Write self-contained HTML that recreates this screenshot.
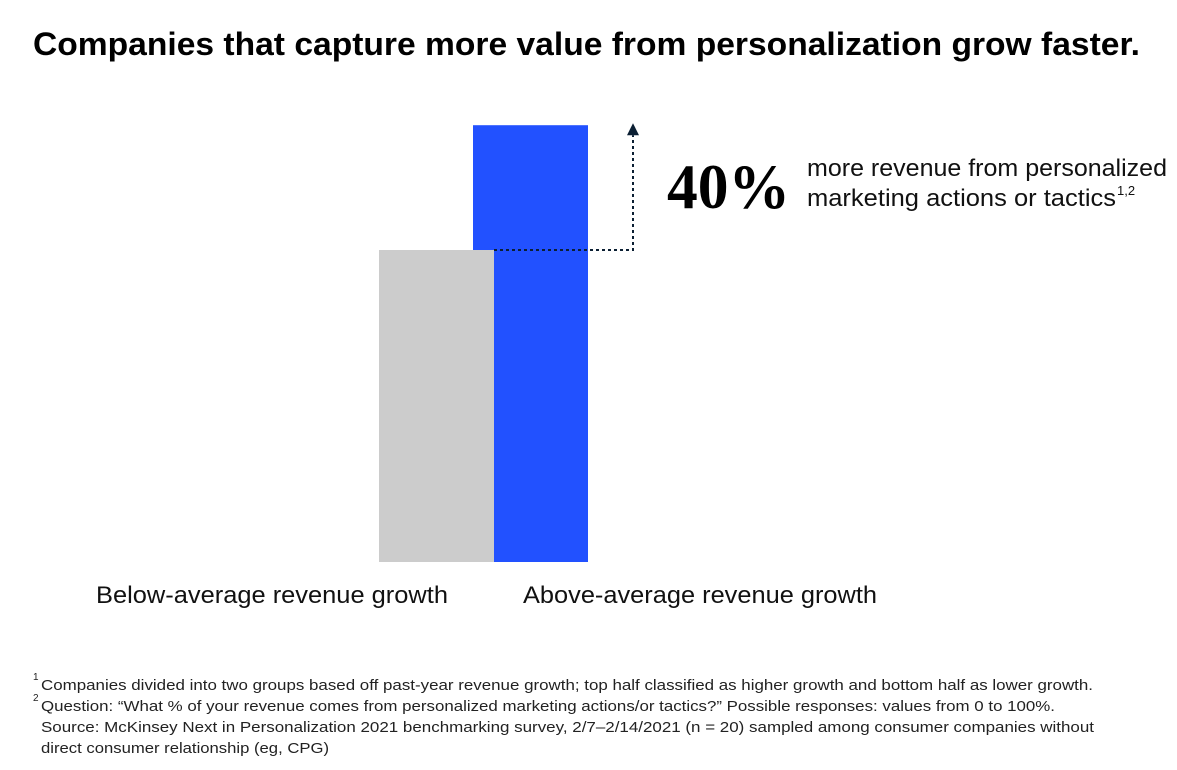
<!DOCTYPE html>
<html><head><meta charset="utf-8"><style>
html,body{margin:0;padding:0;background:#fff;}
svg{display:block;font-family:"Liberation Sans",sans-serif;}
</style></head><body>
<svg id="chart" width="1177" height="770" viewBox="0 0 1177 770" xmlns="http://www.w3.org/2000/svg">
<text x="33" y="55" font-size="32" font-weight="bold" fill="#000" textLength="1107" lengthAdjust="spacingAndGlyphs">Companies that capture more value from personalization grow faster.</text>
<g id="bars"></g>
<g>
<path id="arrowline" fill="none" stroke="#0b1f33" stroke-width="2" stroke-dasharray="3,3"/>
<polygon id="arrowhead" fill="#0b1f33"/>
<text x="667" y="208" font-family="'Liberation Serif',serif" font-weight="bold" font-size="64" fill="#000" textLength="123" lengthAdjust="spacingAndGlyphs">40%</text>
<text x="807" y="176" font-size="24" fill="#111" textLength="360" lengthAdjust="spacingAndGlyphs">more revenue from personalized</text>
<text x="807" y="206" font-size="24" fill="#111" textLength="309" lengthAdjust="spacingAndGlyphs">marketing actions or tactics</text>
<text x="1117" y="195" font-size="13" fill="#111">1,2</text>
</g>
<text x="96" y="603" font-size="24" fill="#111" textLength="352" lengthAdjust="spacingAndGlyphs">Below-average revenue growth</text>
<text x="523" y="603" font-size="24" fill="#111" textLength="354" lengthAdjust="spacingAndGlyphs">Above-average revenue growth</text>
<g font-size="15" fill="#222">
<text x="33" y="680" font-size="10">1</text>
<text x="41" y="690" textLength="1052" lengthAdjust="spacingAndGlyphs">Companies divided into two groups based off past-year revenue growth; top half classified as higher growth and bottom half as lower growth.</text>
<text x="33" y="701" font-size="10">2</text>
<text x="41" y="711" textLength="1014" lengthAdjust="spacingAndGlyphs">Question: “What % of your revenue comes from personalized marketing actions/or tactics?” Possible responses: values from 0 to 100%.</text>
<text x="41" y="732" textLength="1053" lengthAdjust="spacingAndGlyphs">Source: McKinsey Next in Personalization 2021 benchmarking survey, 2/7–2/14/2021 (n = 20) sampled among consumer companies without</text>
<text x="41" y="753" textLength="288" lengthAdjust="spacingAndGlyphs">direct consumer relationship (eg, CPG)</text>
</g>
</svg>
<script>
const categories = ["Above-average revenue growth", "Below-average revenue growth"];
const values = [140, 100];
const colors = ["#2251ff", "#cccccc"];
const baseY = 562, pxPerUnit = 3.12;
const barX = [473, 379], barW = 115;
function yScale(v){ return baseY - v * pxPerUnit; }
const ns = "http://www.w3.org/2000/svg";
const g = document.getElementById('bars');
values.forEach((v, i) => {
  const r = document.createElementNS(ns, 'rect');
  
  
  r.setAttribute('x', barX[i]);
  r.setAttribute('y', yScale(v));
  r.setAttribute('width', barW);
  r.setAttribute('height', baseY - yScale(v));
  r.setAttribute('fill', colors[i]);
  g.appendChild(r);
});
const yLow = yScale(values[1]), yHigh = yScale(values[0]);
document.getElementById('arrowline').setAttribute('d', `M494 ${yLow} H633 V${yHigh + 10}`);
document.getElementById('arrowhead').setAttribute('points', `627,${yHigh + 10} 639,${yHigh + 10} 633,${yHigh - 2}`);
</script>
</body></html>
